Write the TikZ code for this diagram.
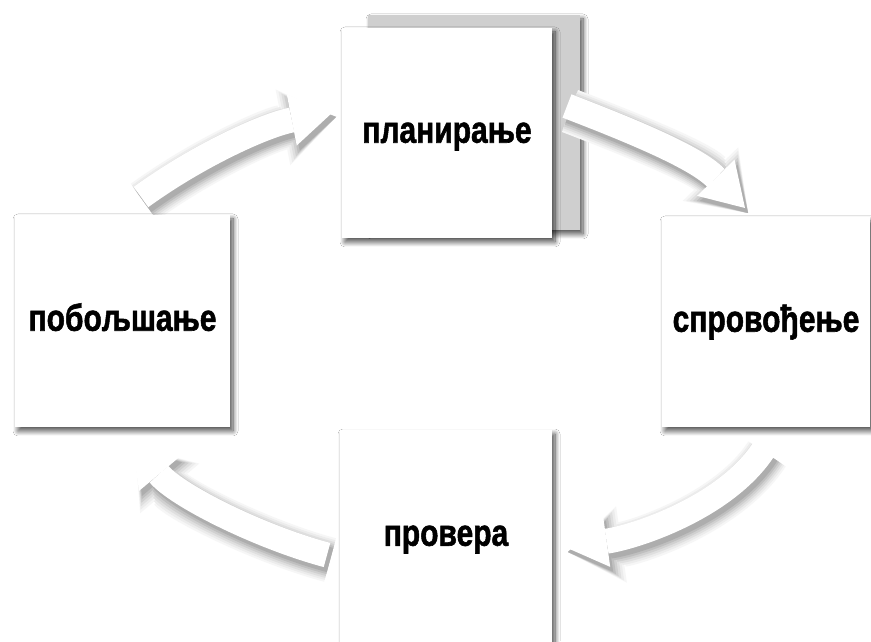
\documentclass[tikz,border=0pt]{standalone}
\usepackage{fontspec}
\setmainfont{Liberation Sans}[BoldFeatures={FakeBold=1.6}]
\usetikzlibrary{arrows.meta,shadows.blur}
\newcommand\flowarrow[4]{%
  \foreach \dd/\col in {10/gray!7,8/gray!15,6/gray!25,4/gray!37,2/gray!50,0/gray!64}{%
    \pgfmathsetmacro\lw{25+2*\dd}%
    \pgfmathsetmacro\tl{42+1.2*\dd}%
    \pgfmathsetmacro\tw{52+2.5*\dd}%
    \draw[draw=\col, line width=\lw pt, -{Triangle[length=\tl pt,width=\tw pt,line width=0pt]},
      transform canvas={shift={(3pt,-5pt)}}]
      (#1) .. controls +(#2:70) and +(#3:70) .. (#4);
  }%
  \draw[draw=white, line width=25pt, -{Triangle[length=42pt,width=52pt,line width=0pt]}]
    (#1) .. controls +(#2:70) and +(#3:70) .. (#4);
}
\newcommand\stagetext[1]{\scalebox{1}[1.25]{#1}}
\begin{document}
\begin{tikzpicture}[x=1pt,y=1pt,
  shadowed/.style={blur shadow={shadow xshift=3pt, shadow yshift=-4pt, shadow blur radius=5pt, shadow blur steps=10, shadow opacity=70}},
  stagebox/.style={shadowed, fill=white, draw=none, inner sep=0pt, text height=25pt, text depth=5.5pt, font=\fontsize{30}{33}\selectfont\bfseries},
  cardbox/.style={shadowed, fill=gray!38, draw=none, inner sep=0pt}]
\useasboundingbox[fill=white] (0,0) rectangle (871,641);
% gray card behind planning
\node[cardbox, minimum width=212pt, minimum height=215pt] (card) at (474,518.5) {};
% arrow end points
\coordinate (a1s) at (141,444); \coordinate (a1e) at (333,529);
\coordinate (a2s) at (567,535); \coordinate (a2e) at (745,433);
\coordinate (a3s) at (764,192); \coordinate (a3e) at (565,94);
\coordinate (a4s) at (327,86);  \coordinate (a4e) at (132,199);
\flowarrow{a1s}{36}{191}{a1e}
\flowarrow{a2s}{-21}{134}{a2e}
\flowarrow{a3s}{237}{8}{a3e}
\flowarrow{a4s}{165}{-50}{a4e}
% stages
\node[stagebox, minimum width=210pt, minimum height=210pt] (plan) at (447,508) {\stagetext{планирање}};
\node[stagebox, minimum width=215pt, minimum height=212pt] (impr) at (122.5,320) {\stagetext{побољшање}};
\node[stagebox, minimum width=208pt, minimum height=210pt] (impl) at (766,319) {\stagetext{спровођење}};
\node[stagebox, minimum width=212pt, minimum height=212pt] (check) at (446,105) {\stagetext{провера}};
\end{tikzpicture}
\end{document}
